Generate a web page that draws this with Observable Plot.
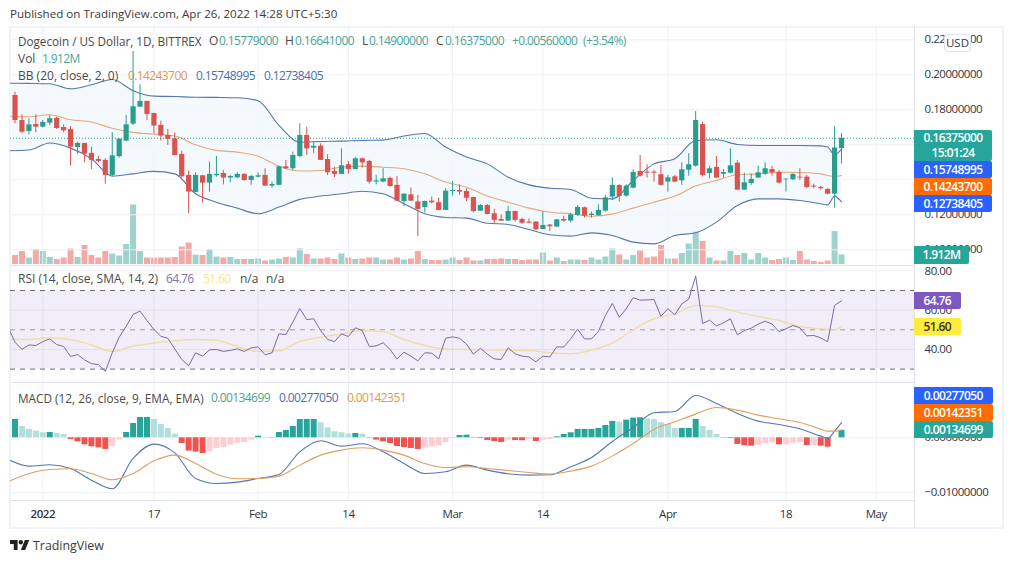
<!DOCTYPE html>
<html>
<head>
<meta charset="utf-8">
<script src="https://cdn.jsdelivr.net/npm/d3@7"></script>
<script src="https://cdn.jsdelivr.net/npm/@observablehq/plot@0.6"></script>
<style>
html,body{margin:0;padding:0;background:#fff;}
#page{position:relative;width:1012px;height:563px;overflow:hidden;font-family:"Open Sans",sans-serif;color:#4a4a4a;}
.pane{position:absolute;left:0;width:1012px;}
.pane svg{display:block;max-width:none;}
.t{position:absolute;white-space:nowrap;font-size:12px;line-height:16px;}
.tag{position:absolute;left:914px;color:#fff;font-size:12px;font-weight:600;text-align:center;border-radius:0 2px 2px 0;line-height:17px;letter-spacing:-.6px;}
.frame{position:absolute;background:#f0f3fa;}
.sep{position:absolute;background:#e0e3eb;}
</style>
</head>
<body>
<div id="page"></div>
<script>
// ---------- OHLC (Dec 28 2021 .. Apr 26 2022), USD per DOGE ----------
const opens=[.1882,.1739,.1676,.1716,.1701,.1724,.1751,.1699,.1688,.1585,
.1608,.1551,.1516,.1511,.1425,.1532,.1621,.1718,.1815,.1848,
.1779,.1711,.1653,.1634,.1545,.1425,.1328,.1423,.1381,.1423,
.1436,.1410,.1411,.1431,.1396,.1415,.1425,.1364,.1368,.1474,
.1463,.1533,.1653,.1581,.1592,.1516,.1448,.1431,.1486,.1459,
.1520,.1505,.1387,.1387,.1408,.1368,.1276,.1314,.1274,.1242,
.1278,.1269,.1225,.1333,.1339,.1333,.1299,.1221,.1253,.1206,
.1173,.1164,.1219,.1173,.1158,.1158,.1116,.1141,.1130,.1173,
.1164,.1196,.1240,.1196,.1194,.1221,.1301,.1368,.1307,.1352,
.1448,.1444,.1444,.1429,.1387,.1417,.1394,.1455,.1478,.1716,
.1436,.1471,.1432,.1438,.1495,.1341,.1379,.1410,.1432,.1459,
.1442,.1400,.1400,.1415,.1415,.1364,.1356,.1345,.1318,.15779];
const closes=[.1739,.1672,.1714,.1701,.1728,.1749,.1693,.1680,.1587,.1608,
.1547,.1511,.1505,.1425,.1537,.1632,.1714,.1817,.1848,.1773,
.1707,.1650,.1631,.1539,.1417,.1330,.1425,.1381,.1431,.1431,
.1410,.1419,.1431,.1396,.1419,.1423,.1364,.1373,.1474,.1463,
.1539,.1653,.1577,.1591,.1511,.1440,.1431,.1480,.1459,.1520,
.1497,.1387,.1394,.1406,.1362,.1278,.1318,.1278,.1231,.1276,
.1269,.1225,.1335,.1339,.1330,.1295,.1219,.1253,.1202,.1168,
.1164,.1219,.1168,.1152,.1152,.1114,.1139,.1132,.1171,.1164,
.1200,.1242,.1192,.1204,.1225,.1297,.1368,.1305,.1364,.1442,
.1421,.1438,.1438,.1368,.1411,.1387,.1457,.1486,.1739,.1425,
.1463,.1410,.1442,.1480,.1341,.1383,.1402,.1440,.1463,.1440,
.1381,.1404,.1431,.1410,.1356,.1358,.1349,.1318,.1582,.16375];
const highs=[.1901,.1772,.1749,.1772,.1739,.1768,.1758,.1714,.1705,.1615,
.1608,.1587,.1535,.1520,.1669,.1634,.1768,.2133,.1943,.1848,
.1781,.1735,.1688,.1669,.1562,.1451,.1440,.1425,.1501,.1533,
.1453,.1425,.1440,.1434,.1425,.1440,.1463,.1387,.1478,.1511,
.1558,.1720,.1701,.1615,.1606,.1543,.1472,.1577,.1505,.1528,
.1524,.1511,.1425,.1463,.1415,.1419,.1320,.1354,.1311,.1278,
.1301,.1295,.1349,.1391,.1371,.1349,.1301,.1259,.1259,.1231,
.1200,.1248,.1221,.1181,.1177,.1162,.1219,.1145,.1173,.1192,
.1206,.1253,.1244,.1215,.1257,.1311,.1411,.1371,.1371,.1457,
.1539,.1486,.1453,.1482,.1425,.1425,.1497,.1549,.1791,.1730,
.1478,.1533,.1459,.1577,.1509,.1438,.1434,.1478,.1497,.1476,
.1453,.1406,.1434,.1463,.1425,.1375,.1362,.1349,.1705,.16641];
const lows=[.1720,.1663,.1657,.1669,.1697,.1711,.1688,.1669,.1478,.1545,
.1497,.1459,.1497,.1375,.1421,.1524,.1619,.1711,.1815,.1739,
.1663,.1621,.1596,.1539,.1410,.1206,.1326,.1267,.1330,.1415,
.1371,.1383,.1406,.1392,.1368,.1410,.1364,.1352,.1368,.1459,
.1453,.1526,.1539,.1551,.1511,.1425,.1413,.1431,.1432,.1459,
.1467,.1375,.1371,.1383,.1358,.1276,.1248,.1276,.1076,.1211,
.1263,.1223,.1225,.1307,.1311,.1276,.1211,.1219,.1200,.1149,
.1162,.1162,.1158,.1145,.1151,.1111,.1116,.1105,.1128,.1158,
.1154,.1192,.1181,.1181,.1192,.1215,.1282,.1272,.1301,.1349,
.1415,.1410,.1387,.1364,.1330,.1383,.1368,.1421,.1472,.1415,
.1406,.1406,.1410,.1434,.1339,.1339,.1368,.1406,.1425,.1421,
.1377,.1330,.1396,.1396,.1349,.1349,.1341,.1314,.1238,.149];
// Volume in millions
const volumes=[1.8,2.6,1.3,3.0,2.6,1.4,1.0,1.3,3.1,1.4,3.8,1.8,1.3,2.6,2.1,1.7,4.0,11.9,2.6,1.3,
1.3,1.3,1.3,1.4,3.5,4.3,1.9,1.8,3.0,1.5,1.3,1.4,1.0,1.0,1.0,1.1,.7,.9,1.1,1.4,1.3,3.1,
2.0,1.1,1.1,1.3,1.0,2.1,1.3,1.0,1.1,1.3,1.3,.9,.9,1.3,.9,1.1,2.6,1.0,.8,.8,.9,1.3,.8,1.3,.7,.7,1.0,1.0,1.1,1.0,1.0,.8,.9,.9,2.3,.7,1.3,.6,.9,.9,.8,1.3,.9,
1.5,3.1,1.9,.9,1.8,2.7,1.3,1.5,3.8,1.1,1.1,2.2,4.1,6.6,4.6,1.3,.7,.7,2.6,1.8,2.2,.9,2.2,1.3,.8,1.0,1.3,.8,2.6,.9,.6,.4,.7,6.6,1.912];
// Sampled days (offset from Dec 28) for the smooth lines
const sampleDays=[-1,2,5,8,11,14,17,20,23,26,29,32,35,38,41,44,47,50,53,56,59,62,65,68,71,74,77,80,83,86,89,92,95,98,101,104,107,110,113,116,117,118,119];
const bbUpper=[.1952,.1951,.1949,.1920,.1943,.1973,.1909,.1878,.1876,.1872,.1871,.1869,.1852,.1711,.1615,.1619,.1621,.1625,.1627,.1650,.1665,.1587,.1530,.1491,.1415,.1371,.1352,.1345,.1295,.1291,.1396,.1491,.1520,.1625,.1629,.1602,.1596,.1596,.1596,.1594,.1587,.1543,.15748995];
const bbBasis=[.1764,.1760,.1772,.1743,.1730,.1695,.1671,.1661,.1650,.1600,.1568,.1558,.1535,.1478,.1450,.1453,.1472,.1478,.1472,.1463,.1434,.1387,.1358,.1307,.1272,.1238,.1215,.1206,.1192,.1204,.1238,.1272,.1307,.1364,.1396,.1429,.1434,.1444,.1442,.1434,.1425,.1419,.142437];
const bbLower=[.1566,.1570,.1610,.1581,.1520,.1421,.1434,.1448,.1434,.1320,.1272,.1238,.1206,.1244,.1288,.1307,.1320,.1335,.1320,.1263,.1206,.1185,.1181,.1152,.1145,.1116,.1086,.1078,.1097,.1082,.1044,.1034,.1082,.1097,.1158,.1253,.1291,.1291,.1282,.1263,.1257,.1307,.12738405];
// RSI daily from Dec 27
const rsiValues=[51.3,43.7,40.0,42.3,42.0,44.0,45.4,42.5,41.5,36.4,37.4,34.7,32.8,32.3,28.8,38.3,46.2,51.8,57.8,59.5,54.7,50.1,46.7,45.7,40.3,34.9,31.7,38.3,36.6,39.8,40.0,39.0,39.5,40.3,39.0,40.8,41.3,37.3,38.3,47.9,47.6,53.9,60.8,55.2,55.6,49.6,45.1,44.0,47.9,46.6,51.0,49.6,41.5,41.8,43.4,40.0,35.1,
38.6,36.6,34.2,38.3,38.1,35.2,45.7,46.4,45.7,42.7,37.6,40.6,37.6,35.2,34.9,40.8,37.8,36.6,36.2,33.7,36.6,36.2,41.3,41.2,45.4,50.3,45.4,45.4,49.1,57.3,63.4,56.4,60.7,66.3,65.1,65.2,65.4,56.9,60.7,57.6,63.2,65.6,77.3,53.2,54.9,52.0,53.5,55.6,47.4,49.6,50.8,52.9,54.4,52.9,49.1,50.5,52.2,51.0,46.9,47.1,45.9,43.9,62.4,64.76];
const rsiSma=[45.1,45.1,45.9,45.1,42.3,39.0,41.7,43.2,44.4,45.1,44.7,41.5,39.0,39.3,44.0,46.2,47.9,49.6,48.96,45.1,42.0,40.3,40.0,39.8,39.6,39.5,38.3,37.8,39.6,43.2,50.0,55.6,58.1,62.4,61.7,59.0,56.8,54.7,51.7,50.5,50.2,50.0,51.6];
// MACD
const macdHist=[.00333,.00206,.00152,.00121,.00091,.00097,.00079,.00061,-.0003,-.00073,-.00127,-.00164,-.00182,-.00212,-.00158,-.00042,.00097,.00261,.0037,.0037,.00333,.00242,.0017,.00067,-.00103,-.00242,-.00261,-.00285,-.00255,-.00194,-.00176,-.00133,-.00103,-.00085,-.00042,.0003,.00001,.00006,.00097,.00133,.00206,.00333,.00333,.00333,.00273,.00182,.00109,.00091,.00067,.00079,.00067,-.00006,-.00042,-.00073,-.00103,-.00158,
-.00176,-.00194,-.00212,-.00188,-.00164,-.00152,-.00085,-.00012,.00042,.00048,-.00006,-.00012,-.00048,-.00067,-.00085,-.00042,-.00048,-.00055,-.0003,-.00067,-.00042,-.0003,.00018,.00061,.00091,.00152,.00152,.00152,.0017,.00224,.00297,.00285,.00321,.00358,.00364,.00345,.00333,.00273,.00242,.0017,.0017,.0017,.00333,.00206,.00133,.00061,-.00006,-.00012,-.00121,-.00145,-.00152,-.00139,-.00103,-.00091,-.00127,-.00127,-.00097,-.00091,-.00139,-.00139,-.00152,-.0017,-.00003,.00134699];
const macdLine=[-.00394,-.00515,-.00491,-.00558,-.0077,-.00927,-.00376,-.00115,-.00273,-.00739,-.0083,-.00806,-.00739,-.00667,-.00255,-.00055,-.00152,-.00109,-.00255,-.00467,-.00648,-.00618,-.00497,-.00588,-.00655,-.00679,-.00673,-.00527,-.00358,-.00067,.00188,.00455,.00479,.0077,.00624,.00442,.00303,.00242,.00164,.0003,-.00012,.00121,.0027705];
const macdSignal=[-.008,-.00648,-.00576,-.00564,-.00648,-.00764,-.00648,-.00418,-.00315,-.00467,-.00661,-.00745,-.00739,-.00697,-.00497,-.00315,-.00224,-.00182,-.00224,-.00315,-.00467,-.00539,-.00527,-.00558,-.00594,-.0063,-.00661,-.00606,-.00515,-.00333,-.00103,.00152,.00291,.0043,.00551,.00503,.00412,.00345,.00279,.00158,.00121,.00121,.00142351];
// Axis
const xTickDates=[[2022,0,1],[2022,0,17],[2022,1,1],[2022,1,14],[2022,2,1],[2022,2,14],[2022,3,1],[2022,3,18],[2022,4,1]].map(d=>new Date(Date.UTC(...d)));
const xTickLabels=["2022","17","Feb","14","Mar","14","Apr","18","May"];
const priceTicks=[.22,.20,.18,.16,.14,.12,.10];
const rsiTicks=[80,60,40];
const macdTicks=[0,-.01];
const rsiLevels=[70,50,30];

for(const [n,a] of Object.entries({opens,closes,highs,lows,volumes,macdHist})) if(a.length!==120) throw new Error(n+" length "+a.length);
for(const [n,a] of Object.entries({bbUpper,bbBasis,bbLower,rsiSma,macdLine,macdSignal})) if(a.length!==sampleDays.length) throw new Error(n+" length "+a.length);
if(rsiValues.length!==121) throw new Error("rsi length "+rsiValues.length);

const DAY=864e5, firstDay=Date.UTC(2021,11,28), jan1=Date.UTC(2022,0,1);
const dayAt=k=>new Date(firstDay+k*DAY);
const xDomain=[new Date(jan1-4.65*DAY),new Date(jan1+125.65*DAY)];
const up="#2a9d8f",down="#d9534f";
const candles=opens.map((o,i)=>({date:dayAt(i),open:o,close:closes[i],high:highs[i],low:lows[i],vol:volumes[i],up:closes[i]>=o}));
const samples=sampleDays.map((k,i)=>({date:dayAt(k),upper:bbUpper[i],basis:bbBasis[i],lower:bbLower[i],sma:rsiSma[i],macd:macdLine[i],signal:macdSignal[i]}));
const rsiRows=rsiValues.map((v,i)=>({date:dayAt(i-1),v}));
const histRows=macdHist.map((v,i)=>({date:dayAt(i),v,color:v>=0?(i==0||v>=macdHist[i-1]?"#26a69a":"#b2dfdb"):(i>0&&v>=macdHist[i-1]?"#ffcdd2":"#ef5350")}));

const page=document.getElementById("page");
const gridColor="#eef0f5";
const base=(height,extra)=>({width:1012,height,marginLeft:10,marginRight:97,marginTop:0,marginBottom:0,
  x:{type:"utc",domain:xDomain,axis:null},
  style:{background:"transparent",fontFamily:'"Open Sans",sans-serif',fontSize:"11.5px",letterSpacing:"-.45px",color:"#2f3340",overflow:"visible",maxWidth:"none"},...extra});
const rightAxis=(ticks,fmt)=>Plot.axisY({anchor:"right",ticks,tickFormat:fmt,tickSize:0,tickPadding:9,label:null});
function place(node,top,z){const w=document.createElement("div");w.className="pane";w.style.top=top+"px";w.style.zIndex=z;w.appendChild(node);page.appendChild(w);}
const gridsX=()=>Plot.gridX(xTickDates,{x:d=>d,stroke:gridColor,strokeOpacity:1});
const f8=d3.format(".8f");
const smooth={curve:"monotone-x",clip:true};

// Frame
for(const [l,t,w,h] of [[9,26,995,2],[9,26,1.5,503],[9,527,995,2],[1002,26,2,503]]){
  const d=document.createElement("div");d.className="frame";d.style.cssText=`left:${l}px;top:${t}px;width:${w}px;height:${h}px`;page.appendChild(d);
}

// Volume overlay
place(Plot.plot(base(237,{y:{domain:[0,47.4],axis:null},marks:[
  Plot.ruleX(candles,{x:"date",y1:0,y2:"vol",strokeWidth:6,stroke:d=>d.up?"#9ed2cc":"#f2a9a7"})
]})),27,1);

// Price
place(Plot.plot(base(237,{y:{domain:[.0916,.22703],axis:null},marks:[
  gridsX(),
  Plot.gridY(priceTicks,{y:d=>d,stroke:gridColor,strokeOpacity:1}),
  Plot.areaY(samples,{x:"date",y1:"lower",y2:"upper",fill:"#f1f8fd",fillOpacity:.8,...smooth}),
  Plot.lineY(samples,{x:"date",y:"upper",stroke:"#5576b4",strokeWidth:1.1,...smooth}),
  Plot.lineY(samples,{x:"date",y:"lower",stroke:"#5576b4",strokeWidth:1.1,...smooth}),
  Plot.lineY(samples,{x:"date",y:"basis",stroke:"#e6a877",strokeWidth:1.1,...smooth}),
  Plot.ruleY([closes[119]],{stroke:"#2a9d8f",strokeDasharray:"1 2",strokeWidth:1}),
  Plot.ruleX(candles,{x:"date",y1:"low",y2:"high",stroke:d=>d.up?up:down,strokeWidth:1}),
  Plot.ruleX(candles,{x:"date",y1:"open",y2:"close",stroke:d=>d.up?up:down,strokeWidth:5.2}),
  rightAxis(priceTicks,f8)
]})),27,2);

// RSI
place(Plot.plot(base(117,{y:{domain:[23.18,82.72],axis:null},marks:[
  gridsX(),
  Plot.gridY(rsiTicks,{y:d=>d,stroke:gridColor,strokeOpacity:1}),
  Plot.rect([rsiLevels],{x1:xDomain[0],x2:xDomain[1],y1:d=>d[2],y2:d=>d[0],fill:"#7e57c2",fillOpacity:.1}),
  Plot.ruleY(rsiLevels,{stroke:d=>d==50?"#9a9aa5":"#666a75",strokeDasharray:"5 5",strokeWidth:1}),
  Plot.lineY(samples,{x:"date",y:"sma",stroke:"#ecdfa8",strokeWidth:1.5,...smooth}),
  Plot.lineY(rsiRows,{x:"date",y:"v",stroke:"#7c69a8",strokeWidth:1,clip:true}),
  rightAxis(rsiTicks,d3.format(".2f"))
]})),265,2);

// MACD + time axis
const macdPlot=Plot.plot(base(145,{marginBottom:28,y:{domain:[-.0114,.00987],axis:null},marks:[
  gridsX(),
  Plot.gridY(macdTicks,{y:d=>d,stroke:gridColor,strokeOpacity:1}),
  Plot.ruleX(histRows,{x:"date",y1:0,y2:"v",stroke:"color",strokeWidth:6}),
  Plot.lineY(samples,{x:"date",y:"macd",stroke:"#5576b4",strokeWidth:1.1,...smooth}),
  Plot.lineY(samples,{x:"date",y:"signal",stroke:"#dd9f60",strokeWidth:1.1,...smooth}),
  rightAxis(macdTicks,f8),
  Plot.axisX({ticks:xTickDates,tickFormat:(d,i)=>xTickLabels[i],tickSize:0,tickPadding:9,label:null,anchor:"bottom"})
]}));
place(macdPlot,383,2);
d3.select(macdPlot).selectAll("text").filter(function(){return this.textContent==="2022";}).style("font-weight","600");

// Separators
for(const [l,t,w,h] of [[10,264.5,905,1],[10,382,905,1],[10,500,905,1],[914,27,1,501]]){
  const d=document.createElement("div");d.className="sep";d.style.cssText=`left:${l}px;top:${t}px;width:${w}px;height:${h}px;z-index:3`;page.appendChild(d);
}

// Text helpers
const teal="#4aa396",blue="#4c6eb0",orange="#e5964a",purple="#8172a8",yellow="#f2e88c";
const NUM="letter-spacing:-.6px;";
function txt(s,x,y,color,extra){const d=document.createElement("div");d.className="t";d.textContent=s;d.style.cssText=`left:${x}px;top:${y-8}px;z-index:5;${color?`color:${color};`:""}${extra||""}`;page.appendChild(d);}
function tag(lines,top,h,w,bg,fg,lh){const d=document.createElement("div");d.className="tag";d.innerHTML=lines.join("<br>");d.style.cssText=`top:${top}px;height:${h}px;width:${w}px;background:${bg};z-index:6;${fg?`color:${fg};`:""}${lh?`line-height:${lh}px;`:""}`;page.appendChild(d);}

txt("Published on TradingView.com, Apr 26, 2022 14:28 UTC+5:30",10,14,"#3a3a3a","font-size:11.6px;");
txt("Dogecoin / US Dollar, 1D, BITTREX",18,41,null,"font-size:11.7px;");
[["O",209,"0.15779000"],["H",285,"0.16641000"],["L",362,"0.14900000"],["C",436,"0.16375000"]].forEach(([k,x,v])=>{
  txt(k,x,41); txt(v,x+(k=="L"?7:k=="C"?9:10),41,teal,NUM);
});
txt("+0.00560000",512,41,teal,NUM); txt("(+3.54%)",583,41,teal,NUM);
txt("Vol",18,59); txt("1.912M",42,59,teal,NUM);
txt("BB (20, close, 2, 0)",18,76); txt("0.14243700",128,76,orange,NUM); txt("0.15748995",196,76,blue,NUM); txt("0.12738405",264,76,blue,NUM);
txt("RSI (14, close, SMA, 14, 2)",18,279); txt("64.76",166,279,purple,NUM); txt("51.60",203,279,yellow,NUM); txt("n/a",240,279); txt("n/a",266,279);
txt("MACD (12, 26, close, 9, EMA, EMA)",18,398,null,"font-size:11.8px;"); txt("0.00134699",211,398,teal,NUM); txt("0.00277050",279,398,blue,NUM); txt("0.00142351",347,398,orange,NUM);
txt("TradingView",33,546,"#3a3a3a","font-size:12.4px;");

// Value tags
tag(["0.16375000","15:01:24"],130,31,78,"#26a69a",null,15);
tag(["0.15748995"],161,17,78,"#2962ff");
tag(["0.14243700"],178,17,78,"#ff6d00");
tag(["0.12738405"],195,17,78,"#2962ff");
tag(["1.912M"],246,18,55,"#26a69a");
tag(["64.76"],292,17,46.5,"#7e57c2");
tag(["51.60"],318,17,46.5,"#ffeb3b","#333");
tag(["0.00277050"],387,17,78.5,"#2962ff");
tag(["0.00142351"],404,17,78.5,"#ff6d00");
tag(["0.00134699"],421,17,78.5,"#26a69a");
const usd=document.createElement("div");usd.textContent="USD";usd.style.cssText="position:absolute;left:944px;top:34px;width:25px;height:16px;line-height:16px;text-align:center;background:#fff;border:1px solid #e0e3eb;border-radius:4px;font-size:11.5px;color:#333;z-index:7";page.appendChild(usd);

// Logo
const logo=document.createElement("div");logo.style.cssText="position:absolute;left:10px;top:540px;z-index:5;line-height:0";
logo.innerHTML='<svg style="display:block" width="19.5" height="10" viewBox="0 4 36 18" preserveAspectRatio="none" fill="#222"><path d="M14 22H7V11H0V4h14v18zM28 22h-8l7.5-18h8L28 22z"/><circle cx="20" cy="8" r="4"/></svg>';
page.appendChild(logo);
</script>
</body>
</html>
